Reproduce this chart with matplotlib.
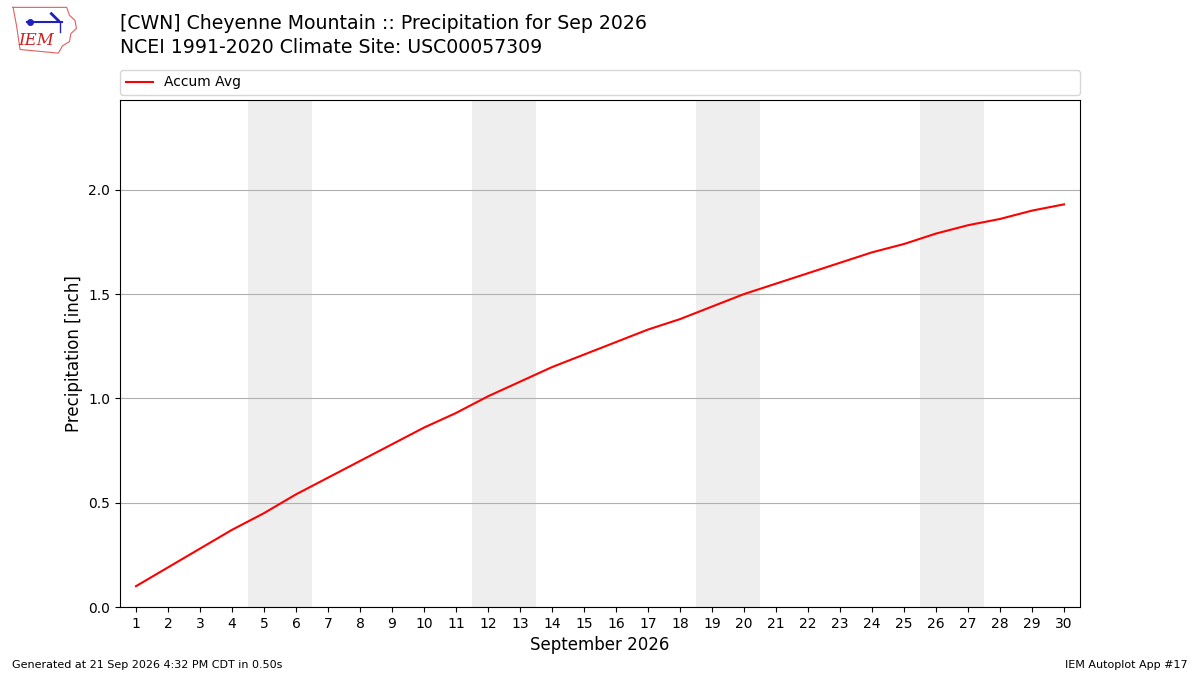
import matplotlib
matplotlib.use("Agg")
import matplotlib.pyplot as plt
import numpy as np

# data
days = list(range(1, 31))
accum_avg = [0.10, 0.19, 0.28, 0.37, 0.45, 0.54, 0.62, 0.70, 0.78, 0.86,
             0.93, 1.01, 1.08, 1.15, 1.21, 1.27, 1.33, 1.38, 1.44, 1.50,
             1.55, 1.60, 1.65, 1.70, 1.74, 1.79, 1.83, 1.86, 1.90, 1.93]
weekends = [(5, 6), (12, 13), (19, 20), (26, 27)]
yticks = [0.0, 0.5, 1.0, 1.5, 2.0]

title1 = "[CWN] Cheyenne Mountain :: Precipitation for Sep 2026"
title2 = "NCEI 1991-2020 Climate Site: USC00057309"
footer_left = "Generated at 21 Sep 2026 4:32 PM CDT in 0.50s"
footer_right = "IEM Autoplot App #17"

fig = plt.figure(figsize=(12, 6.75), dpi=100)
ax = fig.add_axes([0.1, 0.1007, 0.8, 0.7511])

for a, b in weekends:
    ax.axvspan(a - 0.5, b + 0.5, color="#EEEEEE", zorder=0, lw=0)

ax.plot(days, accum_avg, color="red", lw=1.5, label="Accum Avg", zorder=3)

ax.set_xlim(0.5, 30.5)
ax.set_ylim(0, 2.43)
ax.set_xticks(days)
ax.set_yticks(yticks)
ax.set_yticklabels(["%.1f" % v for v in yticks])
ax.grid(axis="y", color="#b0b0b0", lw=0.8)
ax.set_axisbelow(True)
ax.set_xlabel("September 2026", fontsize=12)
ax.set_ylabel("Precipitation [inch]", fontsize=12)

ax.legend(loc="lower left", bbox_to_anchor=(0, 1.01, 1, 0.05), mode="expand",
          ncol=1, fontsize=10, borderaxespad=0, frameon=True)

fig.text(0.1, 0.965, title1, fontsize=13.6, va="center", ha="left")
fig.text(0.1, 0.93, title2, fontsize=13.6, va="center", ha="left")

fig.text(0.01, 0.015, footer_left, fontsize=8, ha="left", va="center")
fig.text(0.99, 0.015, footer_right, fontsize=8, ha="right", va="center")

# rough IEM logo
lax = fig.add_axes([0.008, 0.915, 0.058, 0.078])
lax.set_xlim(0, 10)
lax.set_ylim(0, 10)
lax.axis("off")
ox = [0.5, 8.2, 8.6, 9.4, 9.6, 8.8, 8.6, 7.6, 7.0, 1.5, 1.0, 0.5]
oy = [9.5, 9.5, 8.0, 7.0, 5.5, 4.5, 3.0, 2.2, 0.8, 1.5, 6.0, 9.5]
lax.plot(ox, oy, color="#e06060", lw=0.8)
lax.plot([2.5, 7.5], [6.8, 6.8], color="#2020c0", lw=1.5)
lax.plot([3.0], [6.8], "o", color="#2020c0", ms=4)
lax.plot([6.0, 7.0], [8.3, 7.0], color="#2020c0", lw=2)
lax.plot([7.3, 7.3], [6.8, 4.8], color="#2020c0", lw=1)
lax.text(3.8, 3.2, "IEM", color="#d02020", fontsize=12, style="italic",
         family="serif", ha="center", va="center")

fig.savefig("out.png", dpi=100)
